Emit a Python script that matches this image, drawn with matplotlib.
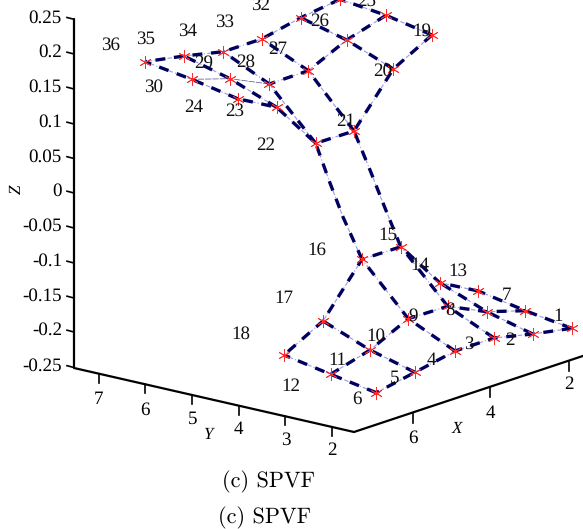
import matplotlib
matplotlib.use('Agg')
import matplotlib.pyplot as plt

# Projected position of each numbered node, in plot coordinates (index = node number - 1)
node_x = [571.7, 532.7, 494.0, 455.0, 415.0, 376.3,
          525.3, 486.7, 447.7, 408.3, 370.0, 330.7,
          478.3, 439.7, 401.0, 362.0, 323.0, 284.0,
          432.0, 393.3, 354.0, 315.7, 276.7, 237.7,
          386.0, 346.7, 308.3, 269.3, 230.0, 191.7,
          340.0, 300.7, 261.7, 223.3, 184.0, 145.0]
node_y = [328.3, 334.0, 338.0, 351.0, 372.3, 392.7,
          310.7, 311.7, 306.3, 318.7, 350.0, 374.3,
          291.0, 282.7, 246.7, 259.3, 321.0, 355.0,
          35.0, 69.0, 131.0, 143.3, 107.3, 98.7,
          15.3, 40.0, 70.7, 84.0, 78.7, 79.3,
          -0.7, 17.7, 39.0, 51.7, 56.0, 61.7]

# Curved neck between the lower and upper sheets
neck_right_x = [400.7, 385, 370, 354]
neck_right_y = [246.7, 208, 170, 131]
neck_left_x = [362, 343, 330, 315.7]
neck_left_y = [259.3, 217, 183, 143.3]

# Node-number label positions
label_numbers = list(range(1, 37))
label_x = [557.7, 510.0, 469.3, 431.7, 395.0, 356.7,
           506.7, 450.0, 413.3, 375.7, 337.3, 290.7,
           458.3, 420.0, 388.3, 316.7, 284.0, 241.0,
           421.7, 382.3, 345.7, 266.0, 235.0, 193.3,
           366.7, 319.3, 277.7, 245.7, 203.3, 154.0,
           0, 261.0, 224.3, 187.7, 146.0, 110.7]
label_y = [316.7, 340.7, 344.3, 360.0, 378.3, 399.0,
           295.0, 310.7, 316.7, 336.0, 360.0, 386.7,
           271.7, 265.0, 235.0, 250.7, 298.3, 334.0,
           31.0, 71.0, 121.7, 145.7, 111.0, 107.3,
           1.0, 21.0, 49.0, 62.3, 63.3, 87.3,
           0, 5.0, 22.3, 31.7, 39.3, 45.0]
hidden_labels = [31]

z_ticks = ['0.25', '0.2', '0.15', '0.1', '0.05', '0', '-0.05', '-0.1', '-0.15', '-0.2', '-0.25']
z_tick_y = [19.3, 54, 89, 124, 158.5, 193, 228, 263, 298, 332, 367.5]
y_ticks = ['7', '6', '5', '4', '3', '2']
y_tick_x = [98.7, 145.3, 192.3, 238.5, 285.4, 332.4]
y_tick_label_y = [399, 410, 419, 429, 440.7, 450.7]
x_ticks = ['6', '4', '2']
x_tick_x = [412.5, 490.3, 569.3]
x_tick_label_y = [438, 413, 384]
caption = '(c) SPVF'

plt.rcParams['text.hinting'] = 'none'
plt.rcParams['text.hinting_factor'] = 1

SERIF = 'Liberation Serif'
FS = 13.5
NAVY = '#000060'
THIN = '#9a9ae0'

fig = plt.figure(figsize=(5.83, 5.29), dpi=100)
ax = fig.add_axes([0, 0, 1, 1])
ax.set_xlim(0, 583)
ax.set_ylim(529, 0)
ax.axis('off')


def draw_path(xs, ys):
    ax.plot(xs, ys, color=THIN, lw=0.8, ls=(0, (4, 2, 1, 2)), zorder=2)
    ax.plot(xs, ys, color=NAVY, lw=2.4, ls=(0, (3.0, 2.6)), dash_capstyle='butt', zorder=3)


def path(ids):
    return [node_x[i - 1] for i in ids], [node_y[i - 1] for i in ids]


rows = [[1, 2, 3, 4, 5, 6], [7, 8, 9, 10, 11, 12], [13, 14, 15, 16, 17, 18],
        [19, 20, 21, 22, 23, 24], [25, 26, 27, 28], [31, 32, 33, 34, 35, 36]]
cols = [[1, 7, 13], [2, 8, 14], [3, 9, 15], [4, 10, 16], [5, 11, 17], [6, 12, 18],
        [19, 25, 31], [20, 26, 32], [21, 27, 33], [22, 28, 34], [23, 29, 35], [24, 30, 36]]
for ids in rows + cols:
    draw_path(*path(ids))
xs, ys = path([28, 29, 30])
ax.plot(xs, ys, color=NAVY, lw=0.5, ls=(0, (9, 1.5)), zorder=2, alpha=0.7)
draw_path(neck_right_x, neck_right_y)
draw_path(neck_left_x, neck_left_y)

ax.plot(node_x, node_y, ls='none', marker=(6, 2, 0), ms=9, mew=0.6, color='#ff2a2a', zorder=3.5)

for n, lx, ly in zip(label_numbers, label_x, label_y):
    if n not in hidden_labels:
        ax.text(lx, ly, str(n), family=SERIF, fontsize=FS, color='#111111',
                ha='center', va='center', zorder=5)

# Box axes
AX = dict(color='black', lw=1.6, solid_capstyle='projecting', zorder=1)
TK = dict(color='black', lw=1.2, zorder=1)
ax.plot([74, 74, 354, 590], [19.3, 368, 432, 353.6], **AX)
for lab, y in zip(z_ticks, z_tick_y):
    ax.plot([67, 74], [y - 1.8, y], **TK)
    ax.text(62, y - 1.5, lab, family=SERIF, fontsize=FS, ha='right', va='center')
for lab, x, ly in zip(y_ticks, y_tick_x, y_tick_label_y):
    y0 = 368 + (x - 74) * 64 / 280
    ax.plot([x, x], [y0, y0 + 9], **TK)
    ax.text(x, ly, lab, family=SERIF, fontsize=FS, ha='center', va='center')
for lab, x, ly in zip(x_ticks, x_tick_x, x_tick_label_y):
    y0 = 432 - (x - 354) * 0.332
    ax.plot([x, x], [y0, y0 + 10], **TK)
    ax.text(x, ly, lab, family=SERIF, fontsize=FS, ha='center', va='center')

ax.text(208, 435, 'Y', family=SERIF, style='italic', fontsize=12.5, ha='center', va='center')
ax.text(457, 429, 'X', family=SERIF, style='italic', fontsize=12.5, ha='center', va='center')
ax.text(17, 189, 'Z', family=SERIF, style='italic', fontsize=12.5, rotation=90, ha='center', va='center')

ax.text(269, 482, caption, family='cmr10', fontsize=16, ha='center', va='center')
ax.text(265, 518, caption, family='cmr10', fontsize=16, ha='center', va='center')

fig.savefig('out.png', dpi=100)
